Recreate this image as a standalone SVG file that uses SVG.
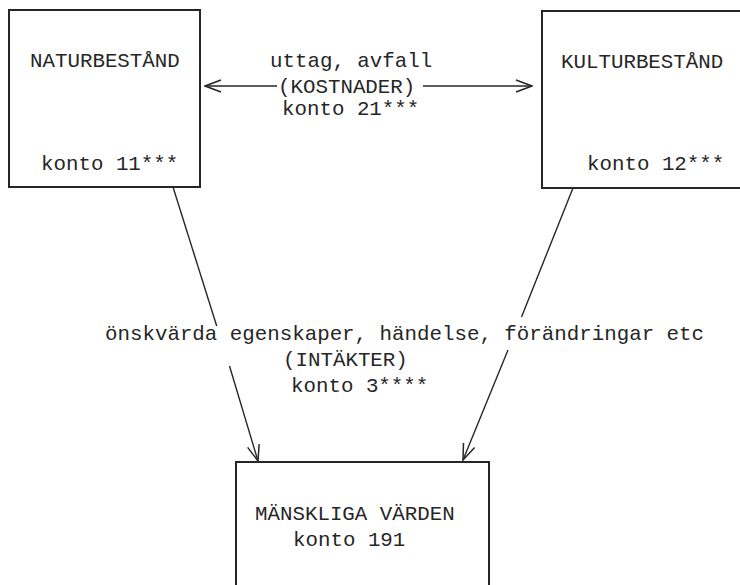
<svg xmlns="http://www.w3.org/2000/svg" width="740" height="585" viewBox="0 0 740 585">
<defs>
<style>
.box{fill:none;stroke:#262626;stroke-width:2}
.ln{fill:none;stroke:#262626;stroke-width:1.4}
text{font-family:"Liberation Mono","Courier New",monospace;font-size:20.8px;fill:#262626}
</style>
<marker id="ah" viewBox="0 0 18 14" refX="17" refY="7" markerWidth="18" markerHeight="14" markerUnits="userSpaceOnUse" orient="auto">
<path d="M1,1 L17,7 L1,13" fill="none" stroke="#262626" stroke-width="1.5"/>
</marker>
</defs>
<rect width="740" height="585" fill="#fff"/>
<g id="naturbestand">
<rect class="box" x="9" y="10" width="191" height="177"/>
<text x="30" y="67">NATURBESTÅND</text>
<text x="41" y="170">konto 11***</text>
</g>
<g id="kulturbestand">
<path class="box" d="M746,11 L542,11 L542,188 L746,188"/>
<text x="561" y="68">KULTURBESTÅND</text>
<text x="587" y="170">konto 12***</text>
</g>
<g id="manskliga-varden">
<path class="box" d="M236,590 L236,462 L489,462 L489,590"/>
<text x="255" y="520">MÄNSKLIGA VÄRDEN</text>
<text x="293" y="546">konto 191</text>
</g>
<g id="connectors">
<line class="ln" x1="277" y1="86" x2="205" y2="86" marker-end="url(#ah)"/>
<line class="ln" x1="423" y1="86" x2="532" y2="86" marker-end="url(#ah)"/>
<line class="ln" x1="173" y1="187" x2="216.7" y2="326"/>
<line class="ln" x1="229.5" y1="366" x2="258" y2="461" marker-end="url(#ah)"/>
<line class="ln" x1="573" y1="188" x2="521.5" y2="317"/>
<line class="ln" x1="508" y1="350" x2="463" y2="460" marker-end="url(#ah)"/>
</g>
<g id="labels">
<text x="270" y="67">uttag, avfall</text>
<text x="278" y="93">(KOSTNADER)</text>
<text x="282" y="115">konto 21***</text>
<text x="105" y="340">önskvärda egenskaper, händelse, förändringar etc</text>
<text x="283" y="366">(INTÄKTER)</text>
<text x="291" y="392">konto 3****</text>
</g>
</svg>
